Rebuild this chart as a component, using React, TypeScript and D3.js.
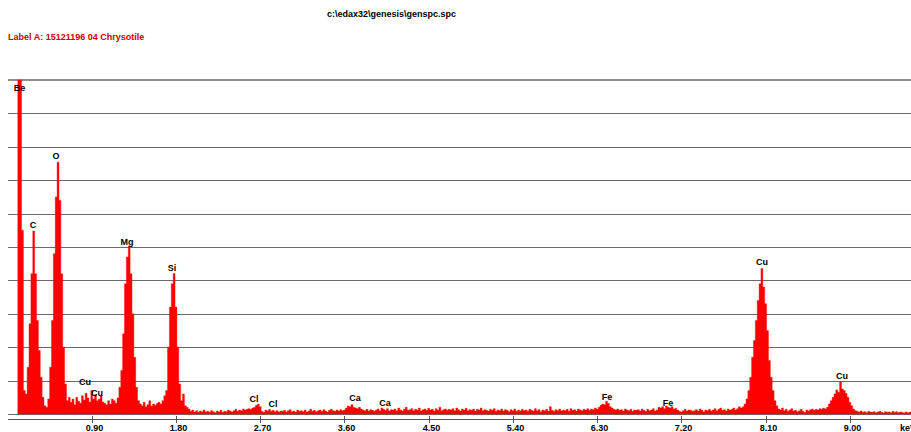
import React from 'react';
import * as d3 from 'd3';

const W = 911;
const H = 432;

// channel width in keV; each segment lists counts per channel from its start energy
const channelWidth = 0.02;

const beCarbonStart = 0.11;
const beCarbonCounts = [1000, 1000, 550, 70, 60, 140, 270, 420, 548, 420, 280, 190, 110, 50, 25, 20];

const oxygenStart = 0.43;
const oxygenCounts = [45, 140, 280, 480, 650, 754, 640, 420, 200, 90, 40, 50];

const copperLStart = 0.67;
const copperLCounts = [35, 45, 28, 50, 38, 32, 55, 42, 62, 48, 36, 70, 45, 58, 40, 44, 55, 36, 32, 28, 40, 30, 45];

const magnesiumStart = 1.13;
const magnesiumCounts = [40, 32, 48, 80, 130, 240, 390, 470, 503, 420, 300, 170, 80, 40];

const mgSiGapStart = 1.41;
const mgSiGapCounts = [30, 25, 35, 22, 28, 40, 24, 30, 26, 32];

const siliconStart = 1.61;
const siliconCounts = [35, 30, 40, 55, 70, 200, 320, 390, 421, 320, 200, 90, 40, 60, 25, 20];

const backgroundStart = 1.93;
const backgroundCounts = [
  15, 8, 12, 6, 10, 5, 9, 7, 12, 6,
  8, 5, 10, 7, 4, 9, 6, 11, 5, 8,
  7, 12, 9, 6, 10, 14, 8, 12, 10, 15,
  12, 14, 16, 14, 18, 20, 26, 30, 22, 8,
  5, 12, 9, 14, 8, 11, 7, 10, 6, 9,
  8, 11, 6, 10, 13, 7, 9, 5, 12, 8,
  10, 7, 12, 6, 9, 14, 8, 11, 7, 10,
  12, 8, 13, 9, 6, 11, 14, 10, 8, 12,
  9, 13, 10, 12, 18, 24, 22, 28, 20, 18,
  16, 20, 15, 12, 10, 14, 9, 13, 11, 8,
  12, 15, 10, 18, 14, 11, 16, 9, 13, 12,
  15, 10, 18, 12, 9, 14, 20, 11, 13, 16,
  10, 14, 12, 18, 9, 13, 15, 11, 17, 12,
  14, 9, 16, 12, 20, 10, 13, 15, 11, 14,
  12, 16, 10, 18, 13, 9, 15, 12, 17, 10,
  13, 11, 15, 9, 14, 12, 18, 10, 13, 11,
  9, 14, 11, 16, 8, 12, 10, 15, 9, 13,
  11, 7, 13, 10, 15, 8, 12, 9, 14, 10,
  12, 8, 14, 11, 9, 16, 10, 13, 7, 12,
  10, 14, 9, 22, 11, 8, 13, 10, 15, 9,
  12, 10, 14, 8, 16, 11, 13, 9, 15, 12,
  10, 14, 12, 16, 11, 15, 13, 18, 14, 20,
  26, 30, 28, 38, 32, 22, 18, 14, 12, 15,
  11, 13, 9, 15, 12, 10, 14, 8, 12, 11,
  13, 9, 15, 11, 8, 14, 10, 12, 16, 9,
  12, 20, 18, 22, 16, 24, 20, 18, 22, 15,
  17, 12, 8, 6, 10, 14, 9, 12, 11, 8,
  10, 13, 9, 15, 11, 7, 12, 10, 14, 9,
  12, 16, 10, 14, 18, 11, 13, 9, 15, 12,
  14, 18, 12, 16, 22,
];

const copperKaStart = 7.83;
const copperKaCounts = [18, 22, 30, 45, 70, 110, 170, 220, 280, 340, 390, 436, 380, 330, 250, 160, 110, 70, 40, 25, 15];

const cuGapStart = 8.25;
const cuGapCounts = [12, 18, 10, 14, 8, 12, 16, 9, 11, 7, 10, 14, 8, 5, 12, 9, 13, 15, 11, 14, 12, 16, 14, 18];

const copperKbStart = 8.73;
const copperKbCounts = [15, 20, 30, 40, 50, 60, 72, 65, 97, 75, 70, 62, 50, 35, 25, 15, 10];

const tailStart = 9.07;
const tailCounts = [8, 6, 9, 5, 7, 4, 8, 6, 5, 7, 4, 6, 8, 5, 3, 7, 5, 6, 4, 8, 5, 7, 4, 6, 5, 3, 6, 4, 5, 7];

const segments: [number, number[]][] = [
  [beCarbonStart, beCarbonCounts],
  [oxygenStart, oxygenCounts],
  [copperLStart, copperLCounts],
  [magnesiumStart, magnesiumCounts],
  [mgSiGapStart, mgSiGapCounts],
  [siliconStart, siliconCounts],
  [backgroundStart, backgroundCounts],
  [copperKaStart, copperKaCounts],
  [cuGapStart, cuGapCounts],
  [copperKbStart, copperKbCounts],
  [tailStart, tailCounts],
];

const tickValues = [0.9, 1.8, 2.7, 3.6, 4.5, 5.4, 6.3, 7.2, 8.1, 9.0];
const tickLabels = ['0.90', '1.80', '2.70', '3.60', '4.50', '5.40', '6.30', '7.20', '8.10', '9.00'];
const gridLevels = [0, 100, 200, 300, 400, 500, 600, 700, 800, 900, 1000];

const peakElements = ['Be', 'C', 'O', 'Cu', 'Cu', 'Mg', 'Si', 'Cl', 'Cl', 'Ca', 'Ca', 'Fe', 'Fe', 'Cu', 'Cu'];
const peakEnergies = [0.128, 0.272, 0.518, 0.828, 0.956, 1.277, 1.757, 2.634, 2.837, 3.713, 4.033, 6.405, 7.057, 8.061, 8.915];
const peakLabelLevels = [976, 566, 772, 96, 63, 515, 437, 45, 30, 48, 33, 51, 33, 455, 114];

const fileTitle = 'c:\\edax32\\genesis\\genspc.spc';
const labelTitle = 'Label A: 15121196 04 Chrysotile';
const axisUnit = 'keV';

const FONT = '"Liberation Sans", Arial, sans-serif';

export default function App() {
  const x = d3.scaleLinear().domain([0, 9.653]).range([7.5, 911]);
  const y = d3.scaleLinear().domain([0, 1000]).range([414, 80]);

  const points: [number, number][] = [];
  segments.forEach(([start, counts]) => {
    counts.forEach((c, j) => {
      points.push([Math.round((start + j * channelWidth) * 1000) / 1000, c]);
    });
  });
  const last = points[points.length - 1];
  points.push([last[0] + channelWidth, last[1]]);

  const area = d3
    .area<[number, number]>()
    .x((d) => x(d[0]))
    .y0(y(0))
    .y1((d) => y(d[1]))
    .curve(d3.curveStepAfter);

  const axisY = 419.5;

  return (
    <svg
      width={W}
      height={H}
      style={{ position: 'absolute', left: 0, top: 0, background: '#fff' }}
      fontFamily={FONT}
    >
      <rect x={0} y={0} width={W} height={H} fill="#fff" />
      <text x={327} y={17} fontSize={9} fontWeight="bold" fill="#000">
        {fileTitle}
      </text>
      <text x={8} y={40} fontSize={9} fontWeight="bold" fill="#c80000">
        {labelTitle}
      </text>

      {gridLevels.map((g) => {
        const top = g === 1000;
        const yy = top ? Math.round(y(g)) : Math.round(y(g)) + 0.5;
        return (
          <line
            key={g}
            x1={8}
            x2={W}
            y1={yy}
            y2={yy}
            stroke={top ? '#8c8c8c' : '#6a6a6a'}
            strokeWidth={top ? 2 : 1}
            shapeRendering="crispEdges"
          />
        );
      })}

      <path d={area(points) || ''} fill="#ff0000" stroke="#ff0000" strokeWidth={0.4} />

      <line x1={8} x2={W} y1={axisY} y2={axisY} stroke="#555" strokeWidth={1} shapeRendering="crispEdges" />
      {tickValues.map((t, i) => {
        const xx = Math.round(x(t)) + 0.5;
        return (
          <g key={t}>
            <line x1={xx} x2={xx} y1={416} y2={423} stroke="#555" strokeWidth={1} shapeRendering="crispEdges" />
            <text x={xx + 2} y={431} fontSize={9} fontWeight="bold" textAnchor="middle" fill="#000">
              {tickLabels[i]}
            </text>
          </g>
        );
      })}
      <text x={900} y={431} fontSize={9} fontWeight="bold" fill="#000">
        {axisUnit}
      </text>

      {peakElements.map((el, i) => (
        <text
          key={i}
          x={x(peakEnergies[i])}
          y={y(peakLabelLevels[i])}
          dy="0.35em"
          fontSize={9}
          fontWeight="bold"
          textAnchor="middle"
          fill="#000"
        >
          {el}
        </text>
      ))}
    </svg>
  );
}
